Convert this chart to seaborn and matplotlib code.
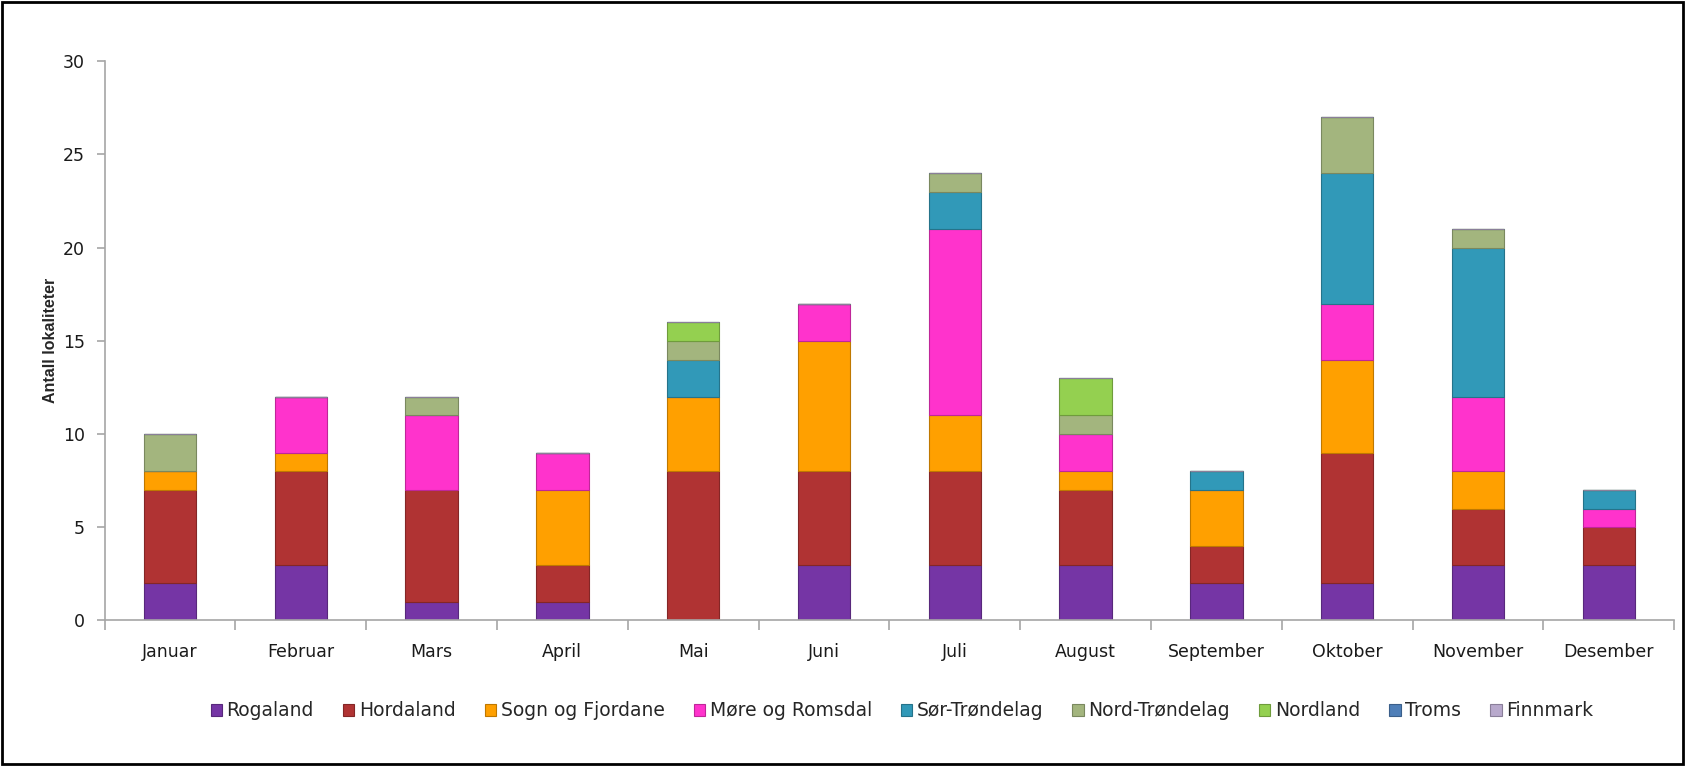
import numpy as np
import matplotlib
matplotlib.use("Agg")
import matplotlib.pyplot as plt
import seaborn as sns
from matplotlib.patches import Rectangle
from matplotlib.ticker import FixedLocator

# -----------------------------
# DATA
# -----------------------------
months = ["Januar", "Februar", "Mars", "April", "Mai", "Juni", "Juli",
          "August", "September", "Oktober", "November", "Desember"]

rogaland       = [2, 3, 1, 1, 0, 3, 3, 3, 2, 2, 3, 3]
hordaland      = [5, 5, 6, 2, 8, 5, 5, 4, 2, 7, 3, 2]
sogn_fjordane  = [1, 1, 0, 4, 4, 7, 3, 1, 3, 5, 2, 0]
more_romsdal   = [0, 3, 4, 2, 0, 2, 10, 2, 0, 3, 4, 1]
sor_trondelag  = [0, 0, 0, 0, 2, 0, 2, 0, 1, 7, 8, 1]
nord_trondelag = [2, 0, 1, 0, 1, 0, 1, 1, 0, 3, 1, 0]
nordland       = [0, 0, 0, 0, 1, 0, 0, 2, 0, 0, 0, 0]
troms          = [0] * 12
finnmark       = [0] * 12

series = [
    ("Rogaland", rogaland, "#7535a5"),
    ("Hordaland", hordaland, "#b03333"),
    ("Sogn og Fjordane", sogn_fjordane, "#ffa000"),
    ("Møre og Romsdal", more_romsdal, "#ff33cc"),
    ("Sør-Trøndelag", sor_trondelag, "#3199b8"),
    ("Nord-Trøndelag", nord_trondelag, "#a3b57e"),
    ("Nordland", nordland, "#94d050"),
    ("Troms", troms, "#4f7fb8"),
    ("Finnmark", finnmark, "#b8a9cc"),
]

# -----------------------------
# PLOT
# -----------------------------
sns.set_style("white")
plt.rcParams["font.family"] = ["DejaVu Sans"]

fig = plt.figure(figsize=(16.86, 7.66), dpi=100)
ax = fig.add_axes([0.062, 0.19, 0.931, 0.73])

bottom = np.zeros(len(months))
for name, vals, col in series:
    edge = tuple(c * 0.75 for c in matplotlib.colors.to_rgb(col))
    sns.barplot(x=months, y=vals, bottom=bottom, color=col, width=0.4,
                label=name, edgecolor=edge, linewidth=0.8, ax=ax,
                saturation=1, legend=False)
    bottom = bottom + np.array(vals)

if ax.get_legend() is not None:
    ax.get_legend().remove()

ax.set_ylim(0, 30)
ax.set_xlim(-0.5, 11.5)
ax.set_yticks(range(0, 31, 5))
ax.set_xlabel("")
ax.set_ylabel("Antall lokaliteter", fontsize=11.5, fontweight="bold",
              family=["Liberation Sans Narrow", "Liberation Sans", "DejaVu Sans"])

for s in ["top", "right"]:
    ax.spines[s].set_visible(False)
for s in ["left", "bottom"]:
    ax.spines[s].set_color("#a6a6a6")
    ax.spines[s].set_linewidth(1.2)

ax.tick_params(axis="both", labelsize=12.5, colors="#a6a6a6", labelcolor="#1a1a1a")
ax.tick_params(axis="y", length=6, width=1.2, direction="out", left=True, pad=8)
ax.tick_params(axis="x", which="major", length=0, pad=16)
ax.xaxis.set_minor_locator(FixedLocator(np.arange(-0.5, 12, 1)))
ax.tick_params(axis="x", which="minor", length=7, width=1.2,
               color="#a6a6a6", bottom=True)

handles, labels = ax.get_legend_handles_labels()
fig.legend(handles, labels, loc="center", bbox_to_anchor=(0.535, 0.072),
           ncol=9, frameon=False, fontsize=13.5, handlelength=0.6,
           handleheight=0.6, handletextpad=0.25, columnspacing=1.55)

# figure border
fig.patches.append(Rectangle((0.001, 0.002), 0.997, 0.996,
                             transform=fig.transFigure, fill=False,
                             edgecolor="black", linewidth=2))

plt.savefig("out.png", dpi=100)
plt.close()
